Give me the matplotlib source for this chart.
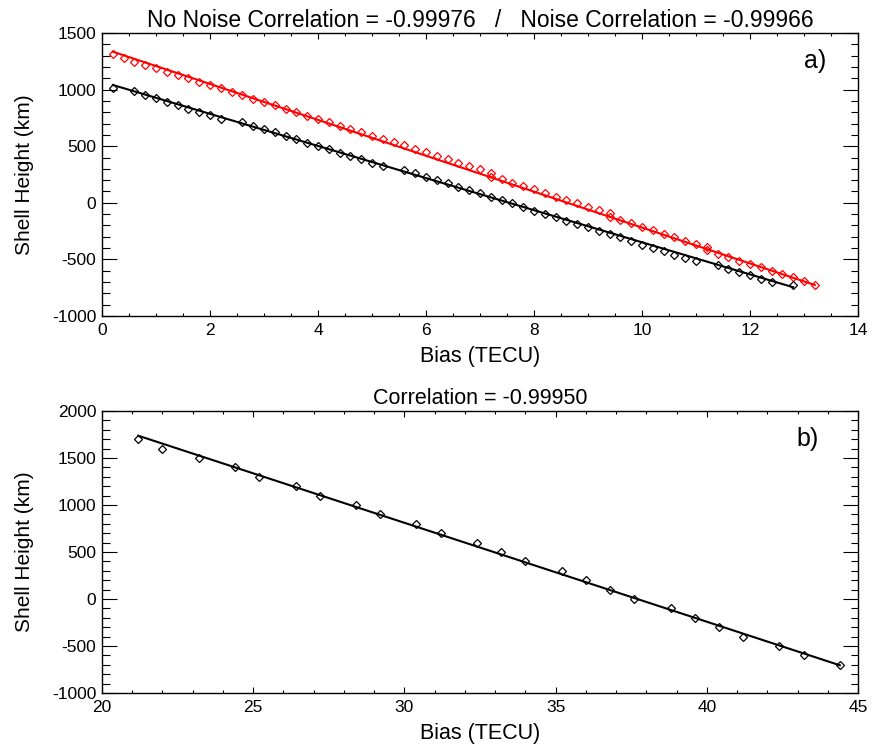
import matplotlib
matplotlib.use("Agg")
import matplotlib.pyplot as plt
from matplotlib.ticker import MultipleLocator

plt.rcParams['font.family'] = ['Liberation Sans', 'DejaVu Sans']
plt.rcParams['axes.unicode_minus'] = False

# ---------------- Panel a) data ----------------
black_x = [0.2, 0.6, 0.8, 1.0, 1.2, 1.4, 1.6, 1.8, 2.0, 2.2,
           2.6, 2.8, 3.0, 3.2, 3.4, 3.6, 3.8, 4.0, 4.2, 4.4, 4.6, 4.8, 5.0, 5.2,
           5.6, 5.8, 6.0, 6.2, 6.4, 6.6, 6.8, 7.0, 7.2, 7.4, 7.6, 7.8, 8.0, 8.2,
           8.4, 8.6, 8.8, 9.0, 9.2, 9.4, 9.6, 9.8, 10.0, 10.2, 10.4, 10.6, 10.8, 11.0,
           11.4, 11.6, 11.8, 12.0, 12.2, 12.4, 12.8]
black_y = [1011, 985, 952, 923, 893, 861, 831, 802, 773, 743,
           711, 681, 652, 623, 590, 564, 531, 502, 473, 443, 413, 384, 354, 322,
           290, 266, 231, 201, 172, 142, 113, 84, 54, 25, -4, -40, -70, -99,
           -128, -158, -187, -216, -246, -276, -305, -335, -370, -399, -428, -458, -488, -517,
           -552, -582, -611, -640, -670, -700, -729]

red_x = [0.2, 0.4, 0.6, 0.8, 1.0, 1.2, 1.4, 1.6, 1.8, 2.0, 2.2, 2.4, 2.6, 2.8,
         3.0, 3.2, 3.4, 3.6, 3.8, 4.0, 4.2, 4.4, 4.6, 4.8, 5.0, 5.2, 5.4,
         5.6, 5.8, 6.0, 6.2, 6.4, 6.6, 6.8, 7.0, 7.2, 7.2, 7.4, 7.6, 7.8, 8.0,
         8.2, 8.4, 8.6, 8.8, 9.0, 9.2, 9.4, 9.4, 9.6, 9.8, 10.0, 10.2, 10.4,
         10.6, 10.8, 11.0, 11.2, 11.2, 11.4, 11.6, 11.8, 12.0, 12.2, 12.4, 12.6,
         12.8, 13.0, 13.2]
red_y = [1312, 1279, 1246, 1220, 1188, 1158, 1129, 1100, 1070, 1041, 1011, 981, 950, 920,
         890, 861, 829, 802, 769, 740, 710, 681, 649, 623, 590, 561, 537,
         507, 477, 445, 413, 384, 354, 325, 296, 266, 231, 208, 178, 148, 119,
         89, 54, 25, -4, -34, -64, -87, -123, -152, -181, -211, -240, -276,
         -305, -335, -364, -393, -420, -452, -481, -511, -541, -570, -600, -629,
         -658, -693, -723]

# fitted lines (end points)
black_fit_x = [0.2, 12.8]
black_fit_y = [1041, -746]
red_fit_x = [0.2, 13.2]
red_fit_y = [1335, -726]

# ---------------- Panel b) data ----------------
b_x = [21.2, 22.0, 23.2, 24.4, 25.2, 26.4, 27.2, 28.4, 29.2, 30.4, 31.2, 32.4, 33.2,
       34.0, 35.2, 36.0, 36.8, 37.6, 38.8, 39.6, 40.4, 41.2, 42.4, 43.2, 44.4]
b_y = [1700, 1600, 1500, 1400, 1300, 1200, 1100, 1000, 900, 800, 700, 600, 500,
       400, 300, 200, 100, 0, -100, -200, -300, -400, -500, -600, -700]
b_fit_x = [21.2, 44.4]
b_fit_y = [1737, -705]

title_a = "No Noise Correlation = -0.99976   /   Noise Correlation = -0.99966"
title_b = "Correlation = -0.99950"

fig = plt.figure(figsize=(8.75, 7.54), dpi=100)
ax1 = fig.add_axes([102/875, 1-316/754, 756/875, 283/754])
ax2 = fig.add_axes([102/875, 1-693/754, 756/875, 282/754])

mk = dict(marker='D', markersize=4.1, markerfacecolor='none', markeredgewidth=0.9, linestyle='none')

LFS = 15.5
TKS = 12.5

ax1.plot(red_fit_x, red_fit_y, color='#ff0000', lw=1.5)
ax1.plot(red_x, red_y, color='#ff0000', markeredgecolor='#ff0000', **mk)
ax1.plot(black_fit_x, black_fit_y, color='black', lw=1.5)
ax1.plot(black_x, black_y, color='black', markeredgecolor='black', **mk)
ax1.set_xlim(0, 14)
ax1.set_ylim(-1000, 1500)
ax1.xaxis.set_major_locator(MultipleLocator(2))
ax1.xaxis.set_minor_locator(MultipleLocator(0.5))
ax1.yaxis.set_major_locator(MultipleLocator(500))
ax1.yaxis.set_minor_locator(MultipleLocator(100))
ax1.set_title(title_a, fontsize=16.5, pad=4)
ax1.set_xlabel("Bias (TECU)", fontsize=LFS, labelpad=6)
ax1.set_ylabel("Shell Height (km)", fontsize=15, labelpad=13)
ax1.text(0.958, 0.90, "a)", transform=ax1.transAxes, fontsize=18, ha='right', va='center')

ax2.plot(b_fit_x, b_fit_y, color='black', lw=1.5)
ax2.plot(b_x, b_y, color='black', markeredgecolor='black', **mk)
ax2.set_xlim(20, 45)
ax2.set_ylim(-1000, 2000)
ax2.xaxis.set_major_locator(MultipleLocator(5))
ax2.xaxis.set_minor_locator(MultipleLocator(1))
ax2.yaxis.set_major_locator(MultipleLocator(500))
ax2.yaxis.set_minor_locator(MultipleLocator(100))
ax2.set_title(title_b, fontsize=15.5, pad=5)
ax2.set_xlabel("Bias (TECU)", fontsize=LFS, labelpad=6)
ax2.set_ylabel("Shell Height (km)", fontsize=15, labelpad=13)
ax2.text(0.948, 0.90, "b)", transform=ax2.transAxes, fontsize=18, ha='right', va='center')

for ax in (ax1, ax2):
    for s in ax.spines.values():
        s.set_linewidth(1.0)
    ax.tick_params(which='both', direction='in', top=True, right=True, labelsize=TKS, width=0.8)
    ax.tick_params(axis='x', which='major', length=4.0, pad=5)
    ax.tick_params(axis='x', which='minor', length=2.0)
    ax.tick_params(axis='y', which='major', length=10.8, pad=4)
    ax.tick_params(axis='y', which='minor', length=5.4)

fig.savefig("out.png", dpi=100)
